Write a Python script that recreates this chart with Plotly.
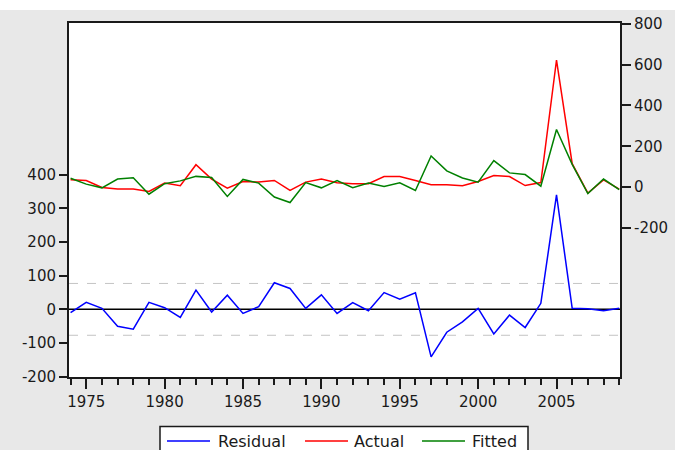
import plotly.graph_objects as go

years = list(range(1974, 2010))

residual = [-10, 21, 3, -50, -59, 21, 5, -24, 57, -8, 42, -12, 8, 79, 62, 3,
            43, -12, 20, -4, 50, 30, 49, -141, -68, -37, 3, -73, -17, -54, 18,
            340, 3, 2, -4, 3]
actual = [36, 33, -1, -9, -9, -21, 20, 7, 110, 40, -5, 28, 25, 33, -16, 25,
          40, 22, 17, 17, 52, 52, 33, 12, 12, 7, 28, 57, 52, 8, 23,
          622, 115, -29, 36, -9]
fitted = [44, 15, -3, 40, 46, -34, 17, 31, 53, 48, -45, 38, 20, -48, -75, 23,
          -3, 33, -2, 21, 4, 22, -16, 153, 80, 45, 25, 130, 70, 62, 5,
          282, 112, -31, 40, -12]

se_band = 77  # +/- one standard error of the regression

left_ticks = [-200, -100, 0, 100, 200, 300, 400]
right_ticks = [-200, 0, 200, 400, 600, 800]
year_ticks = [1975, 1980, 1985, 1990, 1995, 2000, 2005]

series_names = ["Residual", "Actual", "Fitted"]
series_colors = ["#0000ff", "#ff0000", "#008000"]

W, H = 675, 450
L, R, T, B = 69, 55, 23, 73
pw, ph = W - L - R, H - T - B

family = "DejaVu Sans, Verdana, sans-serif"
font = dict(family=family, size=15, color="#1a1a1a")
axis_col = "#1a1a1a"


def px_x(p):
    """Page pixel column -> paper x."""
    return (p - L) / pw


def px_y(p):
    """Page pixel row -> paper y."""
    return (T + ph - p) / ph


fig = go.Figure()
axes_for = ["y", "y2", "y2"]
for name, vals, col, ax in zip(series_names, [residual, actual, fitted],
                               series_colors, axes_for):
    fig.add_trace(go.Scatter(x=years, y=vals, name=name, mode="lines",
                             line=dict(color=col, width=1.5), yaxis=ax,
                             showlegend=False))

shapes = [
    # white strip across the top of the page
    dict(type="rect", xref="paper", yref="paper",
         x0=px_x(-2), x1=px_x(W + 2), y0=px_y(10), y1=px_y(-2),
         fillcolor="white", line=dict(width=0), layer="below"),
    # standard error band
    dict(type="line", xref="paper", yref="y", x0=0, x1=1, y0=se_band, y1=se_band,
         line=dict(color="#c4c4c4", width=1, dash="dash"), layer="below"),
    dict(type="line", xref="paper", yref="y", x0=0, x1=1, y0=-se_band, y1=-se_band,
         line=dict(color="#c4c4c4", width=1, dash="dash"), layer="below"),
    # zero line for the residual
    dict(type="line", xref="paper", yref="y", x0=0, x1=1, y0=0, y1=0,
         line=dict(color="black", width=1.5), layer="below"),
    # legend frame, running off the bottom of the page
    dict(type="rect", xref="paper", yref="paper",
         x0=px_x(160), x1=px_x(528), y0=px_y(462), y1=px_y(426.5),
         fillcolor="white", line=dict(color=axis_col, width=1.5)),
]

annotations = []
legend_row = 441
legend_items = [(167, 210, 216), (305, 348, 352), (422, 465, 470)]
for (lx0, lx1, tx), name, col in zip(legend_items, series_names, series_colors):
    shapes.append(dict(type="line", xref="paper", yref="paper",
                       x0=px_x(lx0), x1=px_x(lx1),
                       y0=px_y(legend_row), y1=px_y(legend_row),
                       line=dict(color=col, width=1.5)))
    annotations.append(dict(text=name, xref="paper", yref="paper",
                            x=px_x(tx), y=px_y(legend_row),
                            xanchor="left", yanchor="middle", showarrow=False,
                            font=dict(family=family, size=16, color="#1a1a1a")))

fig.update_layout(
    width=W, height=H,
    margin=dict(l=L, r=R, t=T, b=B, autoexpand=False),
    paper_bgcolor="#e8e8e8", plot_bgcolor="white",
    font=font,
    shapes=shapes,
    annotations=annotations,
    showlegend=False,
    xaxis=dict(range=[1973.9, 2009.05], tickvals=year_ticks,
               ticktext=[str(v) for v in year_ticks],
               ticks="outside", ticklen=10, tickwidth=1.5, tickcolor=axis_col,
               minor=dict(dtick=1, tick0=1974, ticks="outside", ticklen=6,
                          tickwidth=1.5, tickcolor=axis_col),
               showline=True, linecolor=axis_col, linewidth=2, mirror=True,
               showgrid=False, zeroline=False, tickfont=font),
    yaxis=dict(range=[-201, 851], tickvals=left_ticks,
               ticktext=[str(v) for v in left_ticks],
               ticks="outside", ticklen=8, tickwidth=1.5, tickcolor=axis_col,
               showline=True, linecolor=axis_col, linewidth=2,
               showgrid=False, zeroline=False, tickfont=font),
    yaxis2=dict(range=[-928, 803], tickvals=right_ticks,
                ticktext=[str(v) for v in right_ticks],
                overlaying="y", side="right",
                ticks="outside", ticklen=9, tickwidth=1.5, tickcolor=axis_col,
                showline=True, linecolor=axis_col, linewidth=2,
                showgrid=False, zeroline=False, tickfont=font),
)

fig.write_html("out.html")
